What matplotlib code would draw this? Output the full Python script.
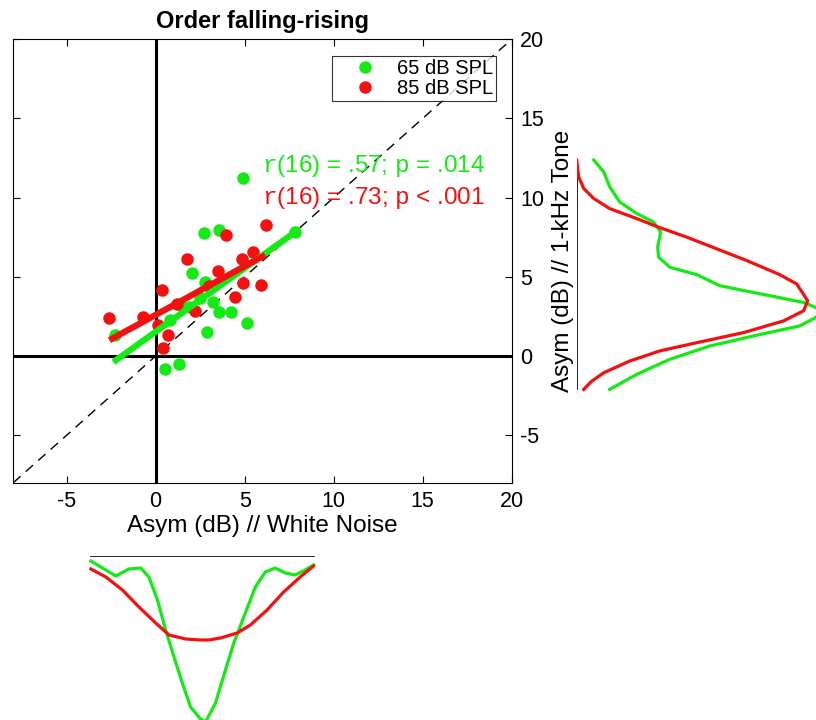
import matplotlib
matplotlib.use('Agg')
import matplotlib.pyplot as plt
import numpy as np

plt.rcParams['font.family'] = ['Liberation Sans', 'DejaVu Sans']
plt.rcParams['mathtext.fontset'] = 'custom'
plt.rcParams['mathtext.rm'] = 'Liberation Sans'
plt.rcParams['mathtext.tt'] = 'Liberation Mono'
plt.rcParams['axes.unicode_minus'] = False

verde = '#14ea14'
rojo = '#f51010'

# asimetria (dB): ruido blanco (x) vs tono 1 kHz (y)
x65 = [4.92, 2.71, 3.57, 7.83, 2.02, 2.77, 3.24, 3.57, 4.21, 5.11, 2.87,
       -2.29, 0.80, 0.52, 1.33, 1.53, 2.49, 1.90]
y65 = [11.22, 7.75, 7.95, 7.85, 5.22, 4.69, 3.43, 2.80, 2.80, 2.06, 1.53,
       1.33, 2.27, -0.84, -0.52, 3.09, 3.66, 3.10]

x85 = [6.20, 3.95, 1.78, 5.45, 4.83, 3.48, 4.92, 5.92, 4.46, 2.21, 0.34,
       -2.61, -0.73, 0.15, 0.71, 0.39, 1.20, 3.00]
y85 = [8.27, 7.64, 6.10, 6.58, 6.10, 5.37, 4.59, 4.48, 3.74, 2.86, 4.17,
       2.38, 2.44, 1.96, 1.33, 0.49, 3.26, 4.39]

# rectas de regresion (extremos)
fit65_x = [-2.38, 7.90]
fit65_y = [-0.38, 7.88]
fit85_x = [-2.60, 6.15]
fit85_y = [1.00, 6.38]

etiquetas = ['65 dB SPL', '85 dB SPL']
textos = [r'$\mathtt{r}$(16) = .57; $\mathtt{p}$ = .014',
          r'$\mathtt{r}$(16) = .73; $\mathtt{p}$ < .001']

# densidades marginales (unidades arbitrarias)
# eje vertical: tono 1 kHz
dy65 = [12.38, 11.64, 10.69, 9.73, 9.00, 8.46, 7.83, 6.88, 6.24, 5.61, 5.14,
        4.44, 3.81, 3.38, 3.07, 2.75, 2.43, 1.90, 1.27, 0.63, -0.21, -1.16, -2.11]
dv65 = [0.017, 0.027, 0.033, 0.043, 0.060, 0.077, 0.084, 0.081, 0.082, 0.093,
        0.120, 0.143, 0.193, 0.227, 0.239, 0.245, 0.239, 0.223, 0.177, 0.133,
        0.093, 0.060, 0.033]
dy85 = [12.38, 11.32, 10.58, 9.95, 9.31, 8.68, 8.11, 7.51, 6.77, 6.03, 5.14,
        4.55, 3.49, 2.86, 2.22, 1.48, 0.84, 0.32, -0.32, -1.06, -1.59, -2.11]
dv85 = [0.000, 0.002, 0.007, 0.017, 0.033, 0.060, 0.083, 0.110, 0.140, 0.170,
        0.203, 0.220, 0.231, 0.227, 0.207, 0.167, 0.120, 0.083, 0.053, 0.027,
        0.015, 0.007]

# eje horizontal: ruido blanco
dx65 = [-3.64, -2.99, -2.24, -1.50, -0.84, -0.38, 0.10, 0.56, 1.03, 1.50, 1.96,
        2.52, 2.80, 3.36, 3.92, 4.39, 4.95, 5.60, 6.16, 6.72, 7.28, 7.84, 8.40, 8.87]
dh65 = [0.005, 0.012, 0.020, 0.013, 0.012, 0.021, 0.044, 0.074, 0.101, 0.127,
        0.151, 0.163, 0.166, 0.147, 0.114, 0.087, 0.061, 0.031, 0.016, 0.012,
        0.017, 0.019, 0.014, 0.009]
dx85 = [-3.64, -2.80, -1.87, -0.94, 0.00, 0.75, 1.68, 2.52, 2.99, 3.64, 4.58,
        5.32, 6.26, 7.19, 8.12, 8.87]
dh85 = [0.013, 0.021, 0.034, 0.051, 0.067, 0.079, 0.083, 0.084, 0.084, 0.082,
        0.077, 0.069, 0.054, 0.036, 0.021, 0.010]

fig = plt.figure(figsize=(8.16, 7.2), dpi=100)

# ---- grafico principal ----
ax = fig.add_axes([0.0163, 0.3296, 0.6107, 0.6158])
ax.plot([-8, 20], [-8, 20], color='k', lw=1, ls=(0, (7, 5)))
ax.axhline(0, color='k', lw=2.2)
ax.axvline(0, color='k', lw=2.2)

ax.plot(x65, y65, 'o', color=verde, ms=9, mec='none', label=etiquetas[0])
ax.plot(x85, y85, 'o', color=rojo, ms=9, mec='none', label=etiquetas[1])
ax.plot(fit65_x, fit65_y, color=verde, lw=4.5, solid_capstyle='butt')
ax.plot(fit85_x, fit85_y, color=rojo, lw=4.5, solid_capstyle='butt')

ax.text(5.95, 12.0, textos[0], color=verde, fontsize=17.5, va='center')
ax.text(5.95, 10.0, textos[1], color=rojo, fontsize=17.5, va='center')

ax.set_xlim(-8, 20)
ax.set_ylim(-8, 20)
ax.set_xticks([-5, 0, 5, 10, 15, 20])
ax.set_yticks([-5, 0, 5, 10, 15, 20])
ax.tick_params(direction='in', top=True, right=True, left=True, bottom=True,
               labelleft=False, labelright=True, length=5, width=0.8,
               labelsize=15.5, pad=6)
ax.yaxis.set_label_position('right')
ax.set_xlabel('Asym (dB) // White Noise', fontsize=17.5, labelpad=2)
ax.set_ylabel('Asym (dB) // 1-kHz Tone', fontsize=17.5, labelpad=6)
ax.set_title('Order falling-rising', fontweight='bold', fontsize=17, pad=8)

leg = ax.legend(loc='upper right', bbox_to_anchor=(0.968, 0.963),
                borderaxespad=0, fontsize=14.5, frameon=True, fancybox=False,
                handletextpad=0.05, borderpad=0.15, labelspacing=0.05,
                handlelength=3.0)
leg.get_frame().set_edgecolor('k')
leg.get_frame().set_linewidth(0.8)

# ---- densidad vertical (derecha) ----
axr = fig.add_axes([0.7067, 0.3296, 0.37, 0.6158])
axr.plot([0, 0], [min(dy65 + dy85), max(dy65 + dy85)], color='k', lw=1.2)
axr.plot(dv65, dy65, color=verde, lw=2.3)
axr.plot(dv85, dy85, color=rojo, lw=2.3)
axr.set_xlim(0, 0.3019)
axr.set_ylim(-8, 20)
axr.axis('off')

# ---- densidad horizontal (abajo) ----
axb = fig.add_axes([0.0163, -0.05, 0.6107, 0.2778])
axb.plot([min(dx65 + dx85), max(dx65 + dx85)], [0, 0], color='k', lw=1.2)
axb.plot(dx65, dh65, color=verde, lw=2.3)
axb.plot(dx85, dh85, color=rojo, lw=2.3)
axb.set_xlim(-8, 20)
axb.set_ylim(0.2, 0)
axb.axis('off')

fig.savefig('out.png', dpi=100)
